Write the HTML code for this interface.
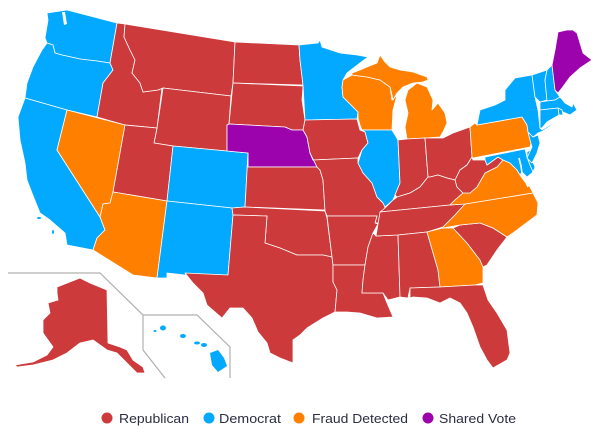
<!DOCTYPE html>
<html><head><meta charset="utf-8"><style>
html,body{margin:0;padding:0;background:#fff;}
svg{display:block;}
.s{stroke:#fff;stroke-width:0.8;stroke-linejoin:round;}
.r{fill:#cd3a3b}.b{fill:#03a9fe}.o{fill:#ff7f00}.p{fill:#9d03ad}
text{font-family:"Liberation Sans",sans-serif;font-size:13px;fill:#2b2d42;}
</style></head><body>
<svg width="600" height="436" viewBox="0 0 600 436" xmlns="http://www.w3.org/2000/svg">
<g class="s">
<!-- West -->
<polygon class="b" points="47,13 67,10 117,23 110,63 97,61 80,59 62,55 55,53 53,45 47,43 45,38 48,20"/>
<polygon class="b" points="47,43 53,45 55,53 62,55 80,59 97,61 110,63 113,70 103,83 100,100 97,117 67,110 25,98 27,83 33,67 42,50"/>
<polygon class="b" points="25,98 67,110 57,150 100,217 105,230 97,238 93,250 67,245 65,233 50,220 40,213 32,193 27,180 25,163 20,140 18,117"/>
<polygon class="r" points="117,23 125,24 124,37 130,50 135,60 132,73 140,83 143,92 158,90 162,88 157,128 125,125 97,117 100,100 103,83 113,70 110,63"/>
<polygon class="o" points="67,110 125,125 113,192 110,203 103,204 100,217 57,150"/>
<polygon class="r" points="125,24 235,42 233,83 231,96 163,88 158,90 143,92 140,83 132,73 135,60 130,50 124,37"/>
<polygon class="r" points="163,88 231,96 229,124 227,125 227,151 173,146 154,143 157,128"/>
<polygon class="r" points="125,125 157,128 154,143 173,146 167,201 113,192"/>
<polygon class="o" points="113,192 167,201 157,278 133,275 93,250 97,238 105,230 100,217 103,204 110,203"/>
<polygon class="b" points="173,146 227,151 248,153 245,207 232,208 167,201"/>
<polygon class="b" points="167,201 232,208 233,215 228,275 187,274 185,275 167,273 167,278 157,278"/>
<!-- Plains -->
<polygon class="r" points="235,42 299,45 300,60 303,85 233,83"/>
<polygon class="r" points="233,83 303,86 302,100 305,120 303,130 292,130 285,127 229,124"/>
<polygon class="p" points="229,124 285,127 292,130 303,130 307,137 310,153 317,167 248,167 248,153 227,151 227,125"/>
<polygon class="r" points="248,167 317,167 320,170 323,180 325,210 245,207 248,153"/>
<polygon class="r" points="232,208 245,207 325,211 327,218 332,257 323,255 297,255 280,248 265,243 267,216 233,215"/>
<polygon class="r" points="233,215 267,216 265,243 280,248 297,255 323,255 332,257 333,265 333,282 337,290 335,312 323,318 307,328 300,335 293,340 293,363 280,358 270,353 267,343 258,332 252,318 243,308 230,308 222,318 207,305 203,293 193,283 185,273 228,275"/>
<!-- Midwest -->
<polygon class="b" points="299,45 318,43 320,40 322,47 340,53 357,55 368,57 360,63 347,73 343,80 342,87 343,97 358,112 357,119 305,120 303,85 300,60"/>
<polygon class="r" points="305,120 357,119 360,130 365,132 368,143 362,150 358,158 313,160 310,153 307,137 303,130"/>
<polygon class="r" points="313,160 358,158 358,163 363,173 372,183 377,197 383,203 385,207 382,215 380,218 378,223 375,223 377,216 327,216 325,211 323,180 320,170 317,167 310,153"/>
<polygon class="r" points="327,216 377,216 375,223 378,224 373,233 368,247 365,265 333,265 332,257"/>
<polygon class="r" points="333,265 365,265 363,280 362,293 383,293 387,303 393,317 377,318 360,313 347,312 335,312 337,290 333,282"/>
<polygon class="r" points="376,236 398,235 400,297 388,300 383,293 362,293 363,280 365,265 368,247 373,233"/>
<polygon class="o" points="342,87 343,80 352,75 367,77 380,80 390,87 392,100 397,95 393,110 392,130 362,130 360,125 358,118 358,112 343,97"/>
<polygon class="o" points="352,73 360,70 367,67 377,63 380,55 385,62 390,67 400,70 413,72 427,77 428,80 423,82 413,83 403,87 397,93 393,100 392,95 390,87 380,80 367,77 352,75"/>
<polygon class="o" points="408,90 417,83 427,87 433,100 432,110 438,103 445,113 447,123 443,132 440,137 425,138 407,139 405,127 408,113 405,100"/>
<polygon class="b" points="362,130 392,130 398,140 400,183 395,195 393,200 385,207 383,203 377,197 372,183 363,173 358,163 362,150 368,143 365,132"/>
<polygon class="r" points="398,140 407,139 425,138 428,177 420,187 410,193 397,197 395,195 400,183"/>
<polygon class="r" points="425,138 443,138 453,133 470,127 472,157 467,165 460,170 455,180 447,178 438,175 430,177 428,177"/>
<polygon class="r" points="380,212 385,208 393,200 397,197 410,193 420,187 428,177 430,177 438,175 447,178 455,180 457,187 463,193 455,200 450,205"/>
<polygon class="r" points="380,212 450,205 465,204 455,215 443,227 427,232 398,235 376,236 378,224"/>
<!-- Southeast -->
<polygon class="r" points="398,235 427,232 438,270 440,287 410,288 408,298 400,297"/>
<polygon class="o" points="427,232 443,228 453,228 467,243 480,260 483,267 483,283 475,285 440,287 438,270"/>
<polygon class="r" points="453,228 460,225 480,223 493,228 507,237 497,250 487,265 483,267 480,260 467,243"/>
<polygon class="o" points="465,204 533,193 538,203 537,215 513,233 507,237 493,228 480,223 460,225 443,228 443,227 455,215"/>
<polygon class="r" points="410,288 440,287 475,285 483,285 488,300 497,313 507,330 510,353 507,360 493,368 487,360 480,347 473,327 467,313 460,303 450,298 440,303 427,298 413,297 410,298"/>
<polygon class="o" points="450,205 455,200 463,193 470,193 477,187 485,173 497,167 503,160 510,163 517,170 520,175 525,182 530,187 533,193 465,204"/>
<polygon class="r" points="472,157 473,160 485,160 487,165 498,157 503,160 497,167 485,173 477,187 470,193 463,193 457,187 455,180 460,170 467,165"/>
<!-- Northeast -->
<polygon class="o" points="470,127 475,123 477,125 522,117 527,125 528,132 532,140 530,147 473,158 472,157"/>
<polygon class="b" points="485,157 525,149 527,157 530,165 533,172 527,177 522,172 520,175 517,170 510,163 503,160 498,157 487,165 485,160"/>
<polygon class="b" points="527,152 530,150 532,160 535,167 533,172 530,165 527,157"/>
<polygon class="b" points="528,132 533,137 538,135 540,143 537,153 532,163 527,158 532,147 530,140"/>
<polygon class="b" points="477,125 480,110 495,105 505,100 505,90 515,78 532,75 535,97 538,110 540,128 542,130 553,123 556,122 543,131 538,133 533,137 528,132 527,125 522,117"/>
<polygon class="b" points="532,75 547,70 545,80 547,100 540,102 535,97"/>
<polygon class="b" points="547,70 552,65 555,90 560,97 555,100 547,101 545,80"/>
<polygon class="p" points="552,65 555,50 558,32 567,30 573,30 577,33 583,53 592,60 580,68 570,77 562,88 558,93 555,90"/>
<polygon class="b" points="540,102 547,101 555,100 560,97 565,103 572,107 573,103 577,110 570,115 563,112 558,108 540,110"/>
<polygon class="b" points="558,108 562,110 563,115 559,115"/>
<polygon class="b" points="540,110 558,108 559,115 547,122 542,128 540,128"/>
<!-- Alaska -->
<polygon class="r" points="57,287 80,278 90,283 107,290 108,343 120,347 127,350 133,360 143,367 145,373 137,373 127,363 117,353 107,350 93,340 80,343 67,353 53,360 33,365 17,367 15,365 33,362 47,355 53,347 43,333 43,320 50,313 48,303 58,300 57,293"/>
</g>
<!-- water details -->
<polygon points="62,12 65,12 67,24 64,25" fill="#fff"/>
<polyline points="519,158 521,166 522,173 525,180 528,187" fill="none" stroke="#fff" stroke-width="1.6"/>
<!-- small islands -->
<g class="b">
<ellipse cx="163" cy="328" rx="3" ry="2.5"/>
<ellipse cx="155" cy="331" rx="1.5" ry="1"/>
<ellipse cx="183" cy="336" rx="3" ry="2"/>
<ellipse cx="197" cy="343" rx="3" ry="1.5"/>
<ellipse cx="204" cy="345" rx="3" ry="2"/>
<polygon points="210,353 218,350 224,358 227,366 218,372 212,365"/>
<ellipse cx="39" cy="218" rx="2" ry="1"/>
<ellipse cx="53" cy="232" rx="1" ry="2"/>
</g>
<!-- inset lines -->
<g fill="none" stroke="#b0b0b0" stroke-width="1.2">
<polyline points="8,273 100,273 143,315 197,315 230,347 230,378"/>
<polyline points="143,315 143,350 165,378"/>
</g>
<!-- legend -->
<circle cx="107" cy="418" r="5.5" fill="#cd3a3b"/>
<text x="119" y="423" textLength="70" lengthAdjust="spacingAndGlyphs">Republican</text>
<circle cx="209" cy="418" r="5.5" fill="#03a9fe"/>
<text x="219" y="423" textLength="62" lengthAdjust="spacingAndGlyphs">Democrat</text>
<circle cx="299" cy="418" r="5.5" fill="#ff7f00"/>
<text x="312" y="423" textLength="96" lengthAdjust="spacingAndGlyphs">Fraud Detected</text>
<circle cx="428" cy="418" r="5.5" fill="#9d03ad"/>
<text x="439" y="423" textLength="77" lengthAdjust="spacingAndGlyphs">Shared Vote</text>
</svg>
</body></html>
